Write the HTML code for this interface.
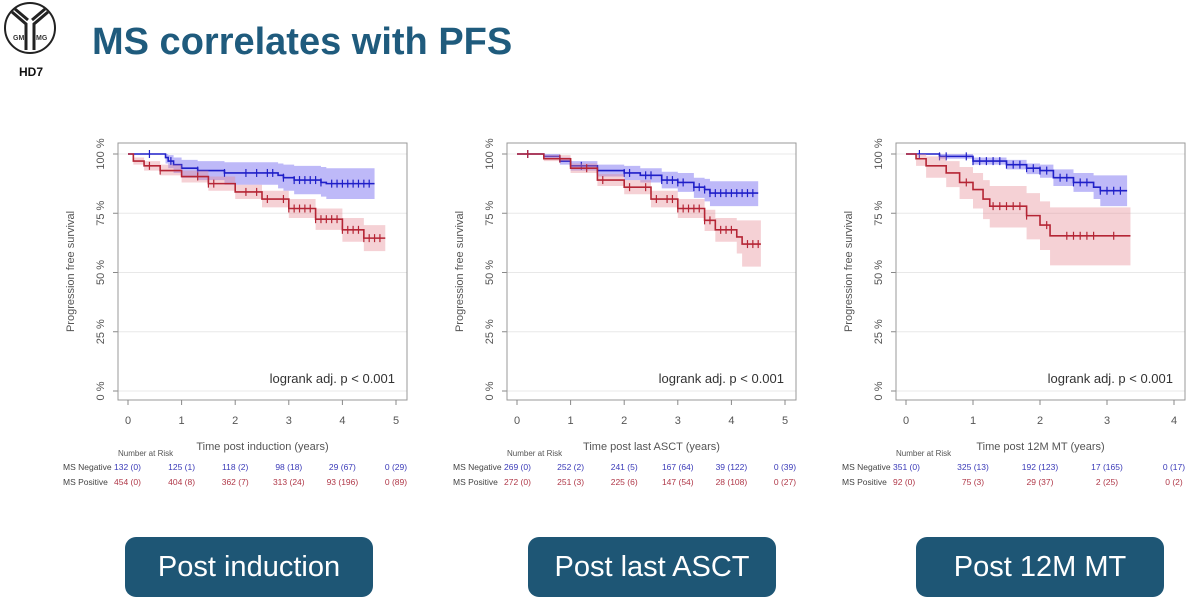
<!DOCTYPE html>
<html><head><meta charset="utf-8"><style>
body{margin:0;width:1199px;height:603px;background:#fff;overflow:hidden;font-family:"Liberation Sans",sans-serif;position:relative}
.btn{position:absolute;top:537px;height:60px;width:248px;background:#1e5675;border-radius:11px;color:#fff;font-size:29px;display:flex;align-items:center;justify-content:center}
</style></head><body>
<svg width="70" height="100" style="position:absolute;left:0;top:0">
<circle cx="30" cy="28" r="25" fill="#fff" stroke="#222" stroke-width="2"/>
<path d="M12 12 L26 24 L26 50 M48 12 L34 24 L34 50 M15 9 L28 20 M45 9 L32 20" stroke="#222" stroke-width="3" fill="none"/>
<text x="13" y="40" font-size="7" font-weight="bold" fill="#333">GM</text>
<text x="36" y="40" font-size="7" font-weight="bold" fill="#333">MG</text>
<text x="19" y="76" font-size="12" font-weight="bold" fill="#111">HD7</text>
</svg>
<div style="position:absolute;left:92px;top:21px;font-size:38px;font-weight:bold;color:#1f5b7d;white-space:nowrap">MS correlates with PFS</div>
<svg id="charts" width="1199" height="510" style="position:absolute;left:0;top:0"></svg>
<div class="btn" style="left:125px">Post induction</div>
<div class="btn" style="left:528px">Post last ASCT</div>
<div class="btn" style="left:916px">Post 12M MT</div>
<script>
// Chart 1: post induction
const c1NegT=[0,0.7,0.75,0.85,1.0,1.3,1.8,2.8,2.9,3.1,3.6,3.7,4.6];
const c1NegS=[100,98.5,97,95.5,94,93,92,91,90,89,88,87.5,87.5];
const c1NegLo=[100,96,94,92,90,89,87,85.5,84.5,83,82,81,81];
const c1NegHi=[100,100,99.5,98.5,97.5,97,96.5,96,95.5,95,94.5,94,94];
const c1NegCens=[0.4,0.8,1.3,1.8,2.2,2.4,2.6,2.7,2.9,3.1,3.2,3.3,3.4,3.5,3.6,3.8,3.9,4.0,4.1,4.2,4.3,4.4,4.5];
const c1PosT=[0,0.1,0.3,0.6,1.0,1.5,2.0,2.5,3.0,3.5,4.0,4.4,4.8];
const c1PosS=[100,97,95,93,90.5,87.5,84,81,77,72.5,68,64.5,64.5];
const c1PosLo=[100,95.5,93,91,88,84.5,81,77.5,73,68,63,59,59];
const c1PosHi=[100,98.5,97,95.5,93,90.5,87,84.5,81,77,73,70,70];
const c1PosCens=[0.4,0.6,1.3,1.5,1.6,2.2,2.4,2.6,2.9,3.0,3.1,3.2,3.3,3.4,3.5,3.6,3.7,3.8,3.9,4.0,4.1,4.2,4.3,4.4,4.5,4.6,4.7];
const c1Neg=["132 (0)","125 (1)","118 (2)","98 (18)","29 (67)","0 (29)"];
const c1Pos=["454 (0)","404 (8)","362 (7)","313 (24)","93 (196)","0 (89)"];
// Chart 2: post last ASCT
const c2NegT=[0,0.5,0.8,1.0,1.5,2.0,2.3,2.7,3.0,3.3,3.5,3.6,4.5];
const c2NegS=[100,99,97,95,93,92,91,89,88,86,85,83.5,83.5];
const c2NegLo=[100,98,95.5,93,90.5,89,88,85.5,84,81.5,80,78,78];
const c2NegHi=[100,100,98.5,97,95.5,95,94,92.5,92,90,89.5,88.5,88.5];
const c2NegCens=[0.2,1.2,1.5,2.0,2.1,2.4,2.5,2.7,2.8,2.9,3.0,3.1,3.3,3.4,3.5,3.6,3.7,3.8,3.9,4.0,4.1,4.2,4.3,4.4];
const c2PosT=[0,0.5,1.0,1.5,2.0,2.5,3.0,3.5,3.7,4.1,4.2,4.55];
const c2PosS=[100,98,94,89,86,81,77,72,68,65,62,62];
const c2PosLo=[100,97,92,86.5,83,77.5,73,67.5,63,58,52.5,52.5];
const c2PosHi=[100,99.5,96,91.5,89,84.5,81,76.5,73,72,72,72];
const c2PosCens=[0.2,0.8,1.3,1.6,2.1,2.4,2.6,2.8,2.9,3.0,3.1,3.2,3.3,3.4,3.5,3.6,3.8,3.9,4.0,4.3,4.4,4.5];
const c2Neg=["269 (0)","252 (2)","241 (5)","167 (64)","39 (122)","0 (39)"];
const c2Pos=["272 (0)","251 (3)","225 (6)","147 (54)","28 (108)","0 (27)"];
// Chart 3: post 12M MT
const c3NegT=[0,0.5,1.0,1.5,1.8,2.0,2.2,2.5,2.8,2.9,3.3];
const c3NegS=[100,99,97,95.5,94,93,90,88,86,84.5,84.5];
const c3NegLo=[100,98,95.5,93.5,91.5,90,86.5,84,81,78,78];
const c3NegHi=[100,100,98.5,97.5,96,95.5,93.5,92,91,91,91];
const c3NegCens=[0.2,0.5,0.6,0.9,1.0,1.1,1.2,1.3,1.4,1.5,1.6,1.7,1.8,1.9,2.0,2.1,2.3,2.4,2.5,2.6,2.7,2.9,3.0,3.1,3.2];
const c3PosT=[0,0.15,0.3,0.6,0.8,1.0,1.15,1.25,1.8,2.0,2.15,3.35];
const c3PosS=[100,98,95,92,88,85,81,78,74,70,65.5,65.5];
const c3PosLo=[100,95,90,86,81,77,72.5,69,64,59.5,53,53];
const c3PosHi=[100,100,99,97,94.5,92,89,86.5,83.5,80,77.5,77.5];
const c3PosCens=[0.9,1.3,1.4,1.5,1.6,1.7,1.8,2.1,2.4,2.5,2.6,2.7,2.8,3.1];
const c3Neg=["351 (0)","325 (13)","192 (123)","17 (165)","0 (17)"];
const c3Pos=["92 (0)","75 (3)","29 (37)","2 (25)","0 (2)"];

const charts=[
 {x0:128,frameL:118,frameR:407,xmax:5,title:"Time post induction (years)",neg:[c1NegT,c1NegS,c1NegLo,c1NegHi,c1NegCens],pos:[c1PosT,c1PosS,c1PosLo,c1PosHi,c1PosCens],nr:[c1Neg,c1Pos],labX:63,name:"post-induction"},
 {x0:517,frameL:507,frameR:796,xmax:5,title:"Time post last ASCT (years)",neg:[c2NegT,c2NegS,c2NegLo,c2NegHi,c2NegCens],pos:[c2PosT,c2PosS,c2PosLo,c2PosHi,c2PosCens],nr:[c2Neg,c2Pos],labX:453,name:"post-last-asct"},
 {x0:906,frameL:896,frameR:1185,xmax:4,title:"Time post 12M MT (years)",neg:[c3NegT,c3NegS,c3NegLo,c3NegHi,c3NegCens],pos:[c3PosT,c3PosS,c3PosLo,c3PosHi,c3PosCens],nr:[c3Neg,c3Pos],labX:842,name:"post-12m-mt"}
];
const NS="http://www.w3.org/2000/svg";
const svg=document.getElementById('charts');
function mk(tag,attrs,parent,text){const e=document.createElementNS(NS,tag);for(const k in attrs)e.setAttribute(k,attrs[k]);if(text!==undefined)e.textContent=text;(parent||svg).appendChild(e);return e;}
const Y100=154,Y0=391,FT=143,FB=400;
charts.forEach(c=>{
 const x1=c.x0+268;
 const sx=t=>c.x0+t*(x1-c.x0)/c.xmax;
 const sy=v=>Y0-(v/100)*(Y0-Y100);
 const g=mk('g',{});
 
 
 for(let v=0;v<=100;v+=25){const l=mk('line',{x1:c.frameL,x2:c.frameR,y1:sy(v),y2:sy(v),stroke:'#e8e8e8','stroke-width':1},g);
  
  const tx=mk('text',{x:0,y:0,transform:`translate(${c.frameL-14},${sy(v)}) rotate(-90)`,'text-anchor':'middle','font-size':11,fill:'#555'},g,v+' %');
  
  mk('line',{x1:c.frameL-5,x2:c.frameL,y1:sy(v),y2:sy(v),stroke:'#888'},g);}
 const fr=mk('rect',{x:c.frameL,y:FT,width:c.frameR-c.frameL,height:FB-FT,fill:'none',stroke:'#999'},g);
 
 for(let t=0;t<=c.xmax;t++){mk('line',{x1:sx(t),x2:sx(t),y1:FB,y2:FB+5,stroke:'#888'},g);
  const tx=mk('text',{x:sx(t),y:424,'text-anchor':'middle','font-size':11,fill:'#555'},g,t);
  }
 const yt=mk('text',{transform:`translate(${c.frameL-44},${(FT+FB)/2}) rotate(-90)`,'text-anchor':'middle','font-size':11,fill:'#555'},g,'Progression free survival');
 
 const xt=mk('text',{x:(c.frameL+c.frameR)/2,y:450,'text-anchor':'middle','font-size':11,fill:'#555'},g,c.title);
 
 const lr=mk('text',{x:c.frameR-12,y:383,'text-anchor':'end','font-size':13,fill:'#333'},g,'logrank adj. p < 0.001');
 
 [[c.neg,'#1f1fc8','rgba(110,100,240,0.45)','ms-negative'],[c.pos,'#b52535','rgba(230,140,150,0.4)','ms-positive']].forEach(([d,col,fill,nm])=>{
  const [T,S,Lo,Hi,C]=d;
  let up='',lo='';
  for(let i=0;i<T.length;i++){
   const xa=sx(T[i]);
   if(i===0){up+=`M${xa},${sy(Hi[0])}`;}else{up+=` L${xa},${sy(Hi[i-1])} L${xa},${sy(Hi[i])}`;}
  }
  for(let i=T.length-1;i>=0;i--){
   const xa=sx(T[i]);
   lo+=` L${xa},${sy(Lo[i])}`; if(i>0) lo+=` L${xa},${sy(Lo[i-1])}`;
  }
  const band=mk('path',{d:up+lo+' Z',fill:fill,stroke:'none'},g);
  
  let p=`M${sx(T[0])},${sy(S[0])}`;
  for(let i=1;i<T.length;i++)p+=` L${sx(T[i])},${sy(S[i-1])} L${sx(T[i])},${sy(S[i])}`;
  const ln=mk('path',{d:p,fill:'none',stroke:col,'stroke-width':1.6},g);
  
  const sAt=t=>{let v=S[0];for(let i=0;i<T.length;i++)if(T[i]<=t)v=S[i];return v;};
  C.forEach(t=>{const m=mk('line',{x1:sx(t),x2:sx(t),y1:sy(sAt(t))-4,y2:sy(sAt(t))+4,stroke:col,'stroke-width':1.2},g);
   });
 });
 const nar=mk('text',{x:c.frameL,y:456,'font-size':8,fill:'#555'},g,'Number at Risk');
 
 [['MS Negative',c.nr[0],'#3a3ab8',470],['MS Positive',c.nr[1],'#b03848',485]].forEach(([lab,vals,col,y])=>{
  const l=mk('text',{x:c.labX,y:y,'font-size':8.5,fill:'#444'},g,lab);
  
  vals.forEach((v,i)=>{const t=mk('text',{x:i===0?c.labX+51:sx(i),y:y,'text-anchor':i===0?'start':'middle','font-size':8.5,fill:col},g,v);
   });
 });
});
</script>
</body></html>
